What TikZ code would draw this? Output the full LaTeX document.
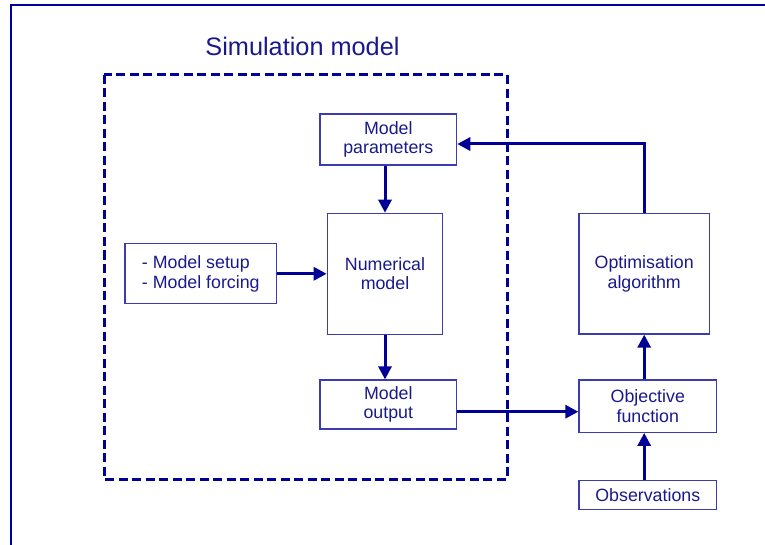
\documentclass[tikz,border=0pt]{standalone}
\usepackage{fontspec}
\setmainfont{Liberation Sans}
\usepackage{tikz}
\usetikzlibrary{arrows.meta,positioning,calc}
\definecolor{simnavy}{RGB}{0,0,150}
\definecolor{boxblue}{RGB}{60,60,175}
\definecolor{textblue}{RGB}{25,25,140}

\begin{document}
\begin{tikzpicture}[
        x=1pt, y=-1pt,
        font=\fontsize{17.8}{19.5}\selectfont,
        blk/.style={draw=boxblue, line width=1.2pt, text=textblue, align=center, inner sep=0pt},
        arr/.style={draw=simnavy, line width=3pt, -{Triangle[length=13pt,width=13pt]}},
        simbox/.style={draw=simnavy, line width=3pt, dash pattern=on 9pt off 4.5pt},
        frame/.style={draw=simnavy, line width=2pt}
    ]
        \useasboundingbox (0,0) rectangle (765,545);
        \draw[frame] (11,545) |- (765,5.5);
        % simulation model
        \draw[simbox] (104,75) rectangle (507,479);
        \node[text=textblue, font=\fontsize{25.3}{30}\selectfont] (title) at (302.5,46) {Simulation model};
        \node[blk, minimum width=136.7pt, minimum height=51pt] (params) at (388.3,139.5) {Model\\parameters};
        \node[blk, minimum width=115.4pt, minimum height=121pt] (num) at (385,273.8) {Numerical\\model};
        \node[blk, align=left, minimum width=151.7pt, minimum height=60pt] (setup) at (200.8,273.8) {- Model setup\\- Model forcing};
        \node[blk, minimum width=136.7pt, minimum height=49pt] (out) at (388.3,404.5) {Model\\output};
        % optimisation loop
        \node[blk, minimum width=130.3pt, minimum height=120.7pt] (opt) at (644.2,273.7) {Optimisation\\algorithm};
        \node[blk, minimum width=137.7pt, minimum height=52.3pt] (obj) at (647.8,406.2) {Objective\\function};
        \node[blk, minimum width=137.7pt, minimum height=29pt] (obs) at (647.8,495.2) {Observations};
        \coordinate (fb) at ($(params.east)+(0,4.5)$);
        \coordinate (oe) at ($(out.east)+(0,7.2)$);
        \draw[arr] (setup) -- (num);
        \draw[arr] (params.south -| num.north) -- (num.north);
        \draw[arr] (num.south) -- (out.north -| num.south);
        \draw[arr] (oe) -- (oe -| obj.west);
        \draw[arr] (obs.north -| opt.south) -- (obj.south -| opt.south);
        \draw[arr] (obj.north -| opt.south) -- (opt.south);
        \draw[arr] (opt.north) |- (fb);
    \end{tikzpicture}
\end{document}
